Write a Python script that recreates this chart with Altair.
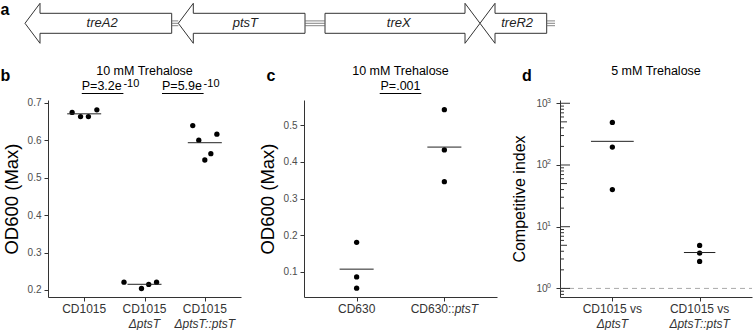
import altair as alt
import pandas as pd

FONT = "Liberation Sans"
INK = "#333333"

# ---------------- panel a: gene map (positions in bp along the locus)
gene_names = ["treA2", "ptsT", "treX", "treR2"]
gene_start = [250, 1783, 3250, 4800]
gene_end = [1717, 3050, 4800, 5467]
gene_strand = ["-", "-", "+", "-"]
spacer_start = [1717, 3050, 5467]
spacer_end = [1783, 3250, 5550]

# ---------------- panel b
b_line1 = ["CD1015", "CD1015", "CD1015"]
b_line2 = ["", "ΔptsT", "ΔptsT::ptsT"]
b_wt = [0.674, 0.663, 0.663, 0.681]
b_ko = [0.221, 0.204, 0.215, 0.221]
b_comp = [0.639, 0.600, 0.547, 0.564, 0.616]
b_wt_jit = [-0.20, -0.06, 0.07, 0.21]
b_ko_jit = [-0.34, -0.05, 0.07, 0.20]
b_comp_jit = [-0.20, -0.10, 0.00, 0.10, 0.20]
b_p_text = ["P=3.2e", "P=5.9e"]
b_p_exp = ["-10", "-10"]
b_p_from = [0.96, 2.29]
b_p_to = [1.65, 2.98]
b_yticks = [0.2, 0.3, 0.4, 0.5, 0.6, 0.7]

# ---------------- panel c
c_line1 = ["CD630", "CD630::"]
c_tail = ["", "ptsT"]
c_wt = [0.180, 0.0855, 0.0546]
c_ins = [0.543, 0.433, 0.346]
c_p_text = ["P=.001"]
c_p_at = [1.5]
c_yticks = [0.1, 0.2, 0.3, 0.4, 0.5]

# ---------------- panel d
d_line1 = ["CD1015 vs", "CD1015 vs"]
d_line2 = ["ΔptsT", "ΔptsT::ptsT"]
d_ko = [490, 195, 40]
d_comp = [4.97, 3.74, 2.74]
d_yticks = [1, 10, 100, 1000]
d_ytick_exp = ["0", "1", "2", "3"]
d_ref = [1]
d_log_major = [1, 10, 100, 1000]
d_log_mid = [5, 50, 500]
d_log_minor = [0.8, 0.9, 2, 3, 4, 6, 7, 8, 9, 20, 30, 40, 60, 70, 80, 90,
               200, 300, 400, 600, 700, 800, 900]

W3, W2, H = 193, 193, 197
ONE = pd.DataFrame({"k": [0]})
LAB_Y1, LAB_Y2 = 213, 228


def pts_df(groups, jitters=None):
    rows = []
    for i, vals in enumerate(groups):
        for j, v in enumerate(vals):
            jit = jitters[i][j] if jitters else 0.0
            rows.append({"idx": i + 1, "x": i + 1 + jit, "v": v})
    return pd.DataFrame(rows)


def panel(W, xdom, ydom, groups, jitters, hw_expr, yticks, ytitle, title, line1,
          line2, titleX, title_size, log=False, fmt=".1f", label_expr=None,
          label_pad=3):
    sx = alt.Scale(domain=xdom, nice=False, zero=False)
    if log:
        sy = alt.Scale(type="log", domain=ydom, nice=False)
    else:
        sy = alt.Scale(domain=ydom, nice=False, zero=False)
    ax_x = alt.Axis(values=list(range(1, len(groups) + 1)), labels=False,
                    title=None, tickSize=4, grid=False)
    yk = dict(values=yticks, title=ytitle, titleX=titleX, titleY=H / 2,
              titleAngle=270, titleAlign="center", titleBaseline="middle",
              titleFontSize=title_size, grid=False, tickSize=4,
              labelPadding=label_pad)
    if label_expr:
        yk["labelExpr"] = label_expr
    else:
        yk["format"] = fmt
    ax_y = alt.Axis(**yk)

    def X(f):
        return alt.X(f, type="quantitative", scale=sx, axis=ax_x)

    def Y(f):
        return alt.Y(f, type="quantitative", scale=sy, axis=ax_y)

    df = pts_df(groups, jitters)
    layers = []
    layers.append(alt.Chart(df).mark_circle(size=28, color="black", opacity=1)
                  .encode(x=X("x"), y=Y("v")))
    layers.append(alt.Chart(df)
                  .transform_aggregate(m="mean(v)", groupby=["idx"])
                  .transform_calculate(hw=hw_expr)
                  .transform_calculate(xl="datum.idx - datum.hw", xr="datum.idx + datum.hw")
                  .mark_rule(color="#222222", strokeWidth=1)
                  .encode(x=X("xl"), x2="xr:Q", y=Y("m")))
    cats = pd.DataFrame({"idx": list(range(1, len(line1) + 1)),
                         "l1": line1, "l2": line2})
    layers.append(alt.Chart(cats).mark_text(fontSize=12, color=INK, baseline="alphabetic")
                  .encode(x=X("idx"), y=alt.value(LAB_Y1), text="l1:N"))
    layers.append(alt.Chart(cats).mark_text(fontSize=12, color=INK, fontStyle="italic",
                                            baseline="alphabetic")
                  .encode(x=X("idx"), y=alt.value(LAB_Y2), text="l2:N"))
    layers.append(alt.Chart(ONE).mark_text(text=title, fontSize=12.5, color="black",
                                           baseline="alphabetic")
                  .encode(x=alt.value(W / 2), y=alt.value(-25)))
    return layers, X, Y


# ---------------- panel b
b_layers, bX, bY = panel(W3, [0.4, 3.6], [0.1813, 0.7072], [b_wt, b_ko, b_comp],
                         [b_wt_jit, b_ko_jit, b_comp_jit], "0.282", b_yticks,
                         "OD600 (Max)", "10 mM Trehalose", b_line1, b_line2, -37, 18.5)
bp = pd.DataFrame({"t": b_p_text, "e": b_p_exp, "x0": b_p_from, "x1": b_p_to})
b_layers.append(alt.Chart(bp).mark_text(fontSize=12.5, color="black", align="left",
                                        baseline="alphabetic")
                .encode(x=bX("x0"), y=alt.value(-10), text="t:N"))
b_layers.append(alt.Chart(bp).mark_text(fontSize=11, color="black", align="left",
                                        baseline="alphabetic")
                .encode(x=bX("x1"), y=alt.value(-13.5), text="e:N"))
b_layers.append(alt.Chart(bp).mark_rule(color="black", strokeWidth=1)
                .encode(x=bX("x0"), x2="x1:Q", y=alt.value(-6.5)))
for letter, lx, ly in [("a", -47.5, -85.5), ("b", -47.5, -19.5)]:
    b_layers.append(alt.Chart(ONE).mark_text(text=letter, fontSize=16, fontWeight="bold",
                                             align="left", baseline="alphabetic",
                                             color="black")
                    .encode(x=alt.value(lx), y=alt.value(ly)))
b_layers.append(alt.Chart(ONE).mark_rule(opacity=0, strokeOpacity=0)
                .encode(x=alt.value(-48), y=alt.value(-100), y2=alt.value(-99)))

# gene map drawn above panel b with its own scales
HEAD = 150
poly = []
for g, s, e, st in zip(gene_names, gene_start, gene_end, gene_strand):
    if st == "-":
        verts = [(s, 0), (s + HEAD, 1), (s + HEAD, 0.5), (e, 0.5), (e, -0.5),
                 (s + HEAD, -0.5), (s + HEAD, -1), (s, 0)]
    else:
        verts = [(e, 0), (e - HEAD, 1), (e - HEAD, 0.5), (s, 0.5), (s, -0.5),
                 (e - HEAD, -0.5), (e - HEAD, -1), (e, 0)]
    for k, (gx, gy) in enumerate(verts):
        poly.append({"gene": g, "o": k, "gx": gx, "gy": gy})
poly = pd.DataFrame(poly)
spacers = pd.DataFrame([{"s": s, "e": e, "off": off}
                        for s, e in zip(spacer_start, spacer_end)
                        for off in (-0.12, 0.0, 0.12)])
glab = pd.DataFrame({"gene": gene_names, "y0": [0] * 4})
glab["mid"] = [((s + e) / 2 + ((s + HEAD + e) / 2 if st == "-" else (s + e - HEAD) / 2)) / 2
               for s, e, st in zip(gene_start, gene_end, gene_strand)]
gsx = alt.Scale(domain=[0, 7530], range=[-48, 705], nice=False, zero=False)
gsy = alt.Scale(domain=[-1, 1], range=[-56.7, -96.7], nice=False, zero=False)
genes = alt.layer(
    alt.Chart(poly).mark_line(color=INK, strokeWidth=1, strokeJoin="miter")
    .encode(x=alt.X("gx:Q", scale=gsx, axis=None), y=alt.Y("gy:Q", scale=gsy, axis=None),
            detail="gene:N", order="o:Q"),
    alt.Chart(spacers).mark_rule(color="#666666", strokeWidth=0.8)
    .encode(x=alt.X("s:Q", scale=gsx, axis=None), x2="e:Q",
            y=alt.Y("off:Q", scale=gsy, axis=None)),
    alt.Chart(glab).mark_text(fontSize=13, fontStyle="italic", color="#222222")
    .encode(x=alt.X("mid:Q", scale=gsx, axis=None), y=alt.Y("y0:Q", scale=gsy, axis=None),
            text="gene:N"),
)
chart_b = alt.layer(alt.layer(*b_layers), genes).resolve_scale(
    x="independent", y="independent").properties(width=W3, height=H)

# ---------------- panel c
c_layers, cX, cY = panel(W2, [0.4, 2.6], [0.0305, 0.5695], [c_wt, c_ins], None, "0.194",
                         c_yticks, "OD600 (Max)", "10 mM Trehalose",
                         ["CD630", ""], ["", ""], -37, 18.5)
cl = pd.DataFrame({"idx": [1, 2], "l1": c_line1, "tail": c_tail})
c_layers.append(alt.Chart(cl[cl.idx == 2]).mark_text(fontSize=12, color=INK, align="right",
                                                     dx=10.3, baseline="alphabetic")
                .encode(x=cX("idx"), y=alt.value(LAB_Y1), text="l1:N"))
c_layers.append(alt.Chart(cl[cl.idx == 2]).mark_text(fontSize=12, color=INK, align="left",
                                                     dx=10.3, fontStyle="italic",
                                                     baseline="alphabetic")
                .encode(x=cX("idx"), y=alt.value(LAB_Y1), text="tail:N"))
cp = pd.DataFrame({"t": c_p_text, "x": c_p_at})
cp["x0"] = cp["x"] - 0.237
cp["x1"] = cp["x"] + 0.237
c_layers.append(alt.Chart(cp).mark_text(fontSize=12.5, color="black", baseline="alphabetic")
                .encode(x=cX("x"), y=alt.value(-10), text="t:N"))
c_layers.append(alt.Chart(cp).mark_rule(color="black", strokeWidth=1)
                .encode(x=cX("x0"), x2="x1:Q", y=alt.value(-6.5)))
c_layers.append(alt.Chart(ONE).mark_text(text="c", fontSize=16, fontWeight="bold",
                                         align="left", baseline="alphabetic", color="black")
                .encode(x=alt.value(-37.5), y=alt.value(-19.5)))
chart_c = alt.layer(*c_layers).properties(width=W2, height=H)

# ---------------- panel d
d_layers, dX, dY = panel(192, [0.4, 2.6], [0.726, 1130], [d_ko, d_comp], None,
                         "datum.idx == 1 ? 0.245 : 0.18",
                         d_yticks, "Competitive index", "5 mM Trehalose",
                         d_line1, d_line2, -41, 16, log=True, label_expr="'10'",
                         label_pad=9)
d_layers.insert(0, alt.Chart(pd.DataFrame({"r": d_ref}))
                .mark_rule(color="#aaaaaa", strokeDash=[5, 4], strokeWidth=1)
                .encode(y=dY("r"), x=alt.value(0), x2=alt.value(192)))
for vals, ln in [(d_log_major, 10), (d_log_mid, 7), (d_log_minor, 4)]:
    d_layers.append(alt.Chart(pd.DataFrame({"t": vals})).mark_rule(color=INK, strokeWidth=1)
                    .encode(y=dY("t"), x=alt.value(0), x2=alt.value(ln)))
d_layers.append(alt.Chart(pd.DataFrame({"t": d_yticks, "e": d_ytick_exp}))
                .mark_text(fontSize=7, color="#4d4d4d", align="left", baseline="alphabetic",
                           dy=-0.5)
                .encode(y=dY("t"), x=alt.value(-13), text="e:N"))
d_layers.append(alt.Chart(ONE).mark_text(text="d", fontSize=16, fontWeight="bold",
                                         align="left", baseline="alphabetic", color="black")
                .encode(x=alt.value(-38), y=alt.value(-19.5)))
chart_d = alt.layer(*d_layers).properties(width=192, height=H)

chart = alt.hconcat(chart_b, chart_c, chart_d, spacing=63, bounds="flush").properties(
    padding=0
).configure(font=FONT).configure_view(stroke=None).configure_axis(
    domainColor=INK, tickColor=INK, labelColor="#4d4d4d", labelFont=FONT,
    labelFontSize=10, titleFont=FONT, titleFontSize=16, titleFontWeight="normal",
    titleColor="black", grid=False
)

chart.save("out.html", embed_options={"renderer": "svg", "actions": False})
